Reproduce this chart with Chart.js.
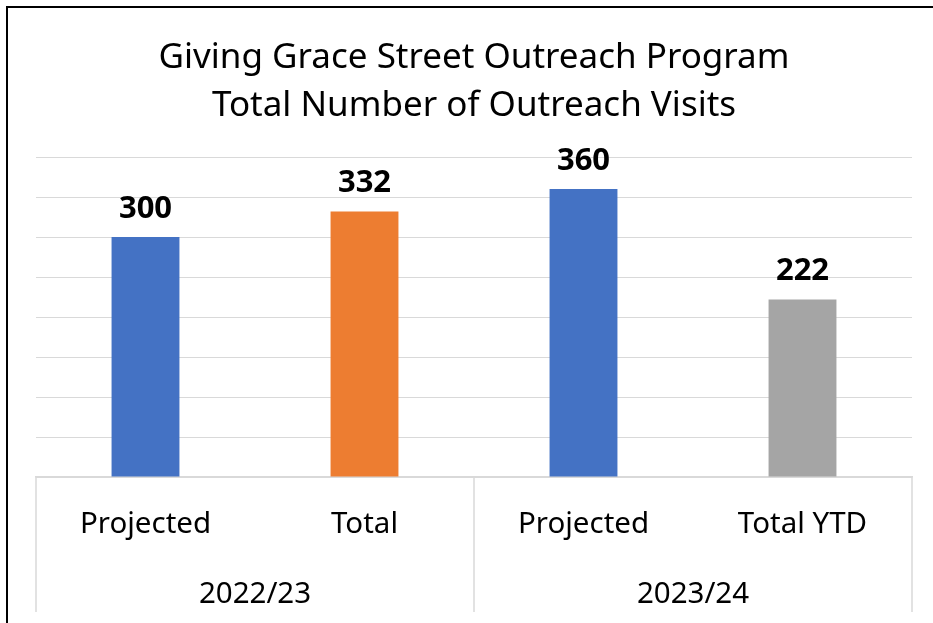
<!DOCTYPE html>
<html>
<head>
<meta charset="utf-8">
<script src="https://cdn.jsdelivr.net/npm/chart.js@4.4.0/dist/chart.umd.min.js"></script>
<style>
  html, body { margin: 0; padding: 0; background: #fff; }
  #wrap { position: relative; width: 933px; height: 623px; overflow: hidden; }
  #frame { position: absolute; left: 6px; top: 6px; width: 1000px; height: 700px;
           border-left: 2px solid #000; border-top: 2px solid #000; }
  #chart { position: absolute; left: 0; top: 0; }
</style>
</head>
<body>
<div id="wrap">
  <div id="frame"></div>
  <canvas id="chart" width="933" height="623"></canvas>
</div>
<script>
const categories = ['Projected', 'Total', 'Projected', 'Total YTD'];
const groups = ['2022/23', '2023/24'];
const visits = [300, 332, 360, 222];
const barColors = ['#4472C4', '#ED7D31', '#4472C4', '#A5A5A5'];
const titleLines = ['Giving Grace Street Outreach Program', 'Total Number of Outreach Visits'];

const FONT = "'Noto Sans', 'Open Sans', sans-serif";

// value labels above each bar
const valueLabels = {
  id: 'valueLabels',
  afterDatasetsDraw(chart) {
    const ctx = chart.ctx;
    const meta = chart.getDatasetMeta(0);
    ctx.save();
    ctx.font = 'bold 31px ' + FONT;
    ctx.fillStyle = '#000';
    ctx.textAlign = 'center';
    ctx.textBaseline = 'alphabetic';
    meta.data.forEach((bar, i) => {
      ctx.fillText(String(visits[i]), bar.x, bar.y - 19);
    });
    ctx.restore();
  }
};

// separators for the two-level category axis
const groupSeparators = {
  id: 'groupSeparators',
  afterDraw(chart) {
    const ctx = chart.ctx;
    const x = chart.scales.x;
    const x2 = chart.scales.x2;
    const perGroup = categories.length / groups.length;
    const edges = [];
    for (let g = 0; g <= groups.length; g++) {
      edges.push(x.getPixelForValue(g * perGroup - 0.5));
    }
    ctx.save();
    ctx.strokeStyle = '#D9D9D9';
    ctx.lineWidth = 1.5;
    edges.forEach(px => {
      ctx.beginPath();
      ctx.moveTo(px, chart.chartArea.bottom);
      ctx.lineTo(px, x2.bottom + 2);
      ctx.stroke();
    });
    ctx.restore();
  }
};

new Chart(document.getElementById('chart').getContext('2d'), {
  type: 'bar',
  data: {
    labels: categories,
    datasets: [{
      data: visits,
      backgroundColor: barColors,
      borderWidth: 0,
      categoryPercentage: 1,
      barPercentage: 0.31
    }]
  },
  options: {
    responsive: false,
    animation: false,
    layout: { padding: { left: 36, right: 21, top: 0, bottom: 13 } },
    plugins: {
      legend: { display: false },
      tooltip: { enabled: false },
      title: {
        display: true,
        text: titleLines,
        color: '#000',
        font: { family: FONT, size: 35, weight: 'normal', lineHeight: 48 / 35 },
        padding: { top: 34, bottom: 27 }
      }
    },
    scales: {
      y: {
        display: true,
        min: 0,
        max: 400,
        ticks: { display: false, stepSize: 50 },
        grid: { color: '#D9D9D9', lineWidth: 1, drawTicks: false },
        border: { display: false }
      },
      x: {
        position: 'bottom',
        grid: { display: false, drawTicks: false },
        border: { display: true, color: '#D9D9D9', width: 1.5 },
        ticks: {
          color: '#000',
          padding: 30,
          font: { family: FONT, size: 29.5, lineHeight: 1.2 }
        },
        afterFit(scale) { scale.height = 63; }
      },
      x2: {
        type: 'category',
        position: 'bottom',
        labels: groups,
        offset: true,
        grid: { display: false, drawTicks: false },
        border: { display: false },
        ticks: {
          color: '#000',
          padding: 37,
          font: { family: FONT, size: 29.5, lineHeight: 1.2 }
        },
        afterFit(scale) { scale.height = 70; }
      }
    }
  },
  plugins: [valueLabels, groupSeparators]
});
</script>
</body>
</html>
